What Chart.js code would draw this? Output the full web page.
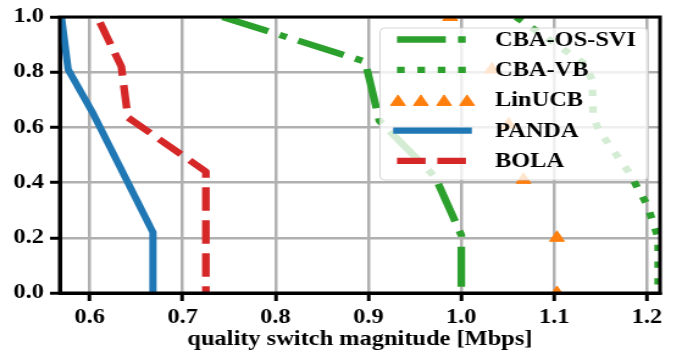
<!DOCTYPE html>
<html>
<head>
<meta charset="utf-8">
<script src="https://cdn.jsdelivr.net/npm/chart.js@4.4.1/dist/chart.umd.min.js"></script>
<style>
  html, body { margin: 0; padding: 0; background: #fff; overflow: hidden; }
  /* the figure is drawn narrow and widened, like the exported paper figure */
  #wrap { width: 560px; height: 358px; transform: scaleX(1.22); transform-origin: 0 0; }
</style>
</head>
<body>
<div id="wrap"><canvas id="switchCdf" width="560" height="358"></canvas></div>
<script>
// quality switch magnitude (Mbps) vs. CDF, one pair of arrays per scheme
const osSviX  = [0.743, 0.8966, 0.9118, 0.972, 1.0, 1.0];
const osSviY  = [1.0, 0.838, 0.624, 0.42, 0.21, 0.0];
const vbX     = [1.059, 1.133, 1.141, 1.142, 1.148, 1.18, 1.2, 1.212, 1.212];
const vbY     = [1.0, 0.83, 0.77, 0.64, 0.59, 0.44, 0.32, 0.2, 0.0];
const linucbX = [0.988, 1.033, 1.051, 1.067, 1.103, 1.103];
const linucbY = [1.0, 0.81, 0.61, 0.41, 0.2, 0.0];
const pandaX  = [0.5695, 0.5767, 0.6036, 0.668, 0.668];
const pandaY  = [1.0, 0.81, 0.65, 0.22, 0.0];
const bolaX   = [0.611, 0.634, 0.641, 0.725, 0.725];
const bolaY   = [0.98, 0.82, 0.636, 0.44, 0.0];

const xTicks = [0.6, 0.7, 0.8, 0.9, 1.0, 1.1, 1.2];
const yTicks = [0.0, 0.2, 0.4, 0.6, 0.8, 1.0];

const GREEN = '#2ca02c', ORANGE = '#ff7f0e', BLUE = '#1f77b4', RED = '#d62728';
const FONT = { family: '"Liberation Serif", "Times New Roman", serif', size: 20, weight: 'bold' };

const pts = (xs, ys) => xs.map((x, i) => ({ x, y: ys[i] }));

// legend entries: label, colour, dash, cap, or triangles
const legendItems = [
  { label: 'CBA-OS-SVI', color: GREEN, dash: [40, 10, 6.3, 10], cap: 'butt' },
  { label: 'CBA-VB', color: GREEN, dash: [6.3, 10.4], cap: 'butt' },
  { label: 'LinUCB', color: ORANGE, marker: true },
  { label: 'PANDA', color: BLUE, dash: [], cap: 'square' },
  { label: 'BOLA', color: RED, dash: [23.5, 9.5], cap: 'butt' }
];

// top and right spines
const frame = {
  id: 'frame',
  afterDatasetsDraw(chart) {
    const { ctx, chartArea: a } = chart;
    ctx.save();
    ctx.strokeStyle = '#000';
    ctx.lineWidth = 3;
    ctx.strokeRect(a.left, a.top, a.right - a.left, a.bottom - a.top);
    ctx.restore();
  }
};

// legend box inside the upper right corner
const boxLegend = {
  id: 'boxLegend',
  afterDraw(chart) {
    const { ctx, chartArea: a } = chart;
    const right = a.right - 10, top = a.top + 11;
    const left = 311.5, bottom = 180;
    ctx.save();
    ctx.beginPath();
    ctx.roundRect(left, top, right - left, bottom - top, 4);
    ctx.fillStyle = 'rgba(255,255,255,0.8)';
    ctx.fill();
    ctx.strokeStyle = 'rgba(204,204,204,0.8)';
    ctx.lineWidth = 1;
    ctx.stroke();

    const x0 = 325.4, x1 = 383.6, textX = 405.7;
    legendItems.forEach((it, i) => {
      const y = 39.5 + i * 30.35;
      if (it.marker) {
        ctx.fillStyle = it.color;
        ctx.strokeStyle = it.color;
        ctx.lineWidth = 1;
        [326.2, 345, 364, 382.8].forEach(mx => {
          Chart.helpers.drawPoint(ctx, { pointStyle: 'triangle', radius: 7, rotation: 0, borderWidth: 1 }, mx, y + 1.75);
        });
      } else {
        ctx.beginPath();
        ctx.setLineDash(it.dash);
        ctx.lineCap = it.cap;
        ctx.lineWidth = 6.3;
        ctx.strokeStyle = it.color;
        ctx.moveTo(x0, y);
        ctx.lineTo(x1, y);
        ctx.stroke();
        ctx.setLineDash([]);
      }
      ctx.fillStyle = '#000';
      ctx.font = 'bold 20px ' + FONT.family;
      ctx.textBaseline = 'middle';
      ctx.textAlign = 'left';
      ctx.fillText(it.label, textX, y + 1);
    });
    ctx.restore();
  }
};

const lineDefaults = { pointRadius: 0, fill: false, tension: 0, borderJoinStyle: 'round', clip: 0 };

new Chart(document.getElementById('switchCdf'), {
  type: 'line',
  data: {
    datasets: [
      { ...lineDefaults, label: 'CBA-OS-SVI', data: pts(osSviX, osSviY), borderColor: GREEN,
        borderWidth: 6.3, borderDash: [40, 10, 6.3, 10], borderCapStyle: 'butt', order: 5 },
      { ...lineDefaults, label: 'CBA-VB', data: pts(vbX, vbY), borderColor: GREEN,
        borderWidth: 6.3, borderDash: [6.3, 10.4], borderCapStyle: 'butt', order: 4 },
      { label: 'LinUCB', data: pts(linucbX, linucbY), showLine: false, clip: 0,
        pointStyle: 'triangle', pointRadius: 7, pointBorderWidth: 1,
        pointBackgroundColor: ORANGE, pointBorderColor: ORANGE, order: 3 },
      { ...lineDefaults, label: 'PANDA', data: pts(pandaX, pandaY), borderColor: BLUE,
        borderWidth: 6, borderCapStyle: 'square', order: 2 },
      { ...lineDefaults, label: 'BOLA', data: pts(bolaX, bolaY), borderColor: RED,
        borderWidth: 6.3, borderDash: [23.5, 9.5], borderCapStyle: 'butt', order: 1 }
    ]
  },
  options: {
    responsive: false,
    animation: false,
    events: [],
    layout: { padding: { top: 13, right: 19, left: 0, bottom: 0 } },
    plugins: { legend: { display: false }, tooltip: { enabled: false } },
    scales: {
      x: {
        type: 'linear',
        min: 0.5677,
        max: 1.214,
        afterBuildTicks: s => { s.ticks = xTicks.map(v => ({ value: v })); },
        afterFit: s => { s.height = 65; },
        ticks: { font: FONT, color: '#000', padding: 5, maxRotation: 0, callback: v => v.toFixed(1) },
        grid: { color: '#b0b0b0', lineWidth: 2.5, tickColor: '#000', tickLength: 8, tickWidth: 3 },
        border: { color: '#000', width: 3 },
        title: { display: true, text: 'quality switch magnitude [Mbps]', font: FONT, color: '#000',
                 padding: { top: 0, bottom: 6 } }
      },
      y: {
        type: 'linear',
        min: 0,
        max: 1,
        afterBuildTicks: s => { s.ticks = yTicks.map(v => ({ value: v })); },
        afterFit: s => { s.width = 49; },
        ticks: { font: FONT, color: '#000', padding: 5, callback: v => v.toFixed(1) },
        grid: { color: '#b0b0b0', lineWidth: 2.5, tickColor: '#000', tickLength: 8, tickWidth: 3 },
        border: { color: '#000', width: 3 }
      }
    }
  },
  plugins: [frame, boxLegend]
});
</script>
</body>
</html>
